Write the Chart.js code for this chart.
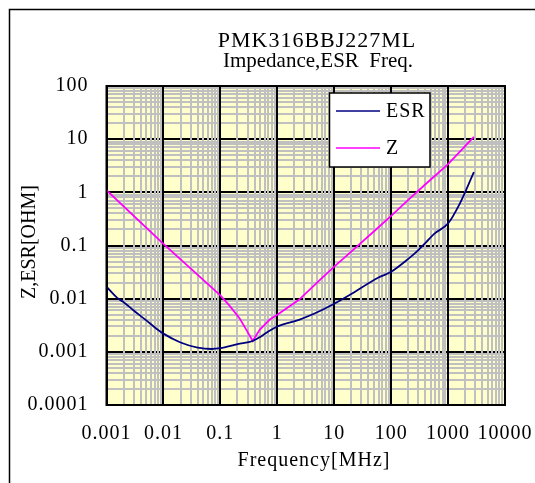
<!DOCTYPE html>
<html><head><meta charset="utf-8">
<style>html,body{margin:0;padding:0;background:#fff;}canvas{display:block;}</style>
<script src="https://cdn.jsdelivr.net/npm/chart.js@4.4.1/dist/chart.umd.min.js"></script>
</head><body>
<canvas id="c" width="535" height="483"></canvas>
<script>
const titleLines = ['PMK316BBJ227ML', 'Impedance,ESR  Freq.'];
const xAxisTitle = 'Frequency[MHz]';
const yAxisTitle = 'Z,ESR[OHM]';
const xTickLabels = ['0.001', '0.01', '0.1', '1', '10', '100', '1000', '10000'];
const yTickLabels = ['0.0001', '0.001', '0.01', '0.1', '1', '10', '100'];
const seriesNames = ['ESR', 'Z'];

const esrFreq   = [0.001, 0.0016, 0.002, 0.003, 0.005, 0.007, 0.01, 0.02, 0.04, 0.07, 0.1, 0.2, 0.37, 0.5, 0.73, 1, 2.4, 5.5, 10, 18.6, 60, 100, 200, 300, 410, 570, 1000, 1590, 2840];
const esrValues = [0.0168, 0.0100, 0.0086, 0.0060, 0.0039, 0.0029, 0.0022, 0.0015, 0.0012, 0.00113, 0.00117, 0.0014, 0.0016, 0.0019, 0.0025, 0.0030, 0.0040, 0.0058, 0.0080, 0.0117, 0.025, 0.032, 0.056, 0.082, 0.115, 0.166, 0.26, 0.60, 2.4];

const zFreq   = [0.001, 0.01, 0.1, 0.146, 0.22, 0.28, 0.37, 0.49, 0.73, 1, 2.4, 5.5, 10, 18.6, 60, 100, 200, 410, 1000, 2840];
const zValues = [1.1, 0.107, 0.0115, 0.0073, 0.0042, 0.0027, 0.0016, 0.0026, 0.0040, 0.0050, 0.0095, 0.022, 0.040, 0.072, 0.22, 0.36, 0.72, 1.45, 3.4, 11];

const SERIF = '"Liberation Serif", "Times New Roman", serif';

function isPow10(v) {
  const l = Math.log10(v);
  return Math.abs(l - Math.round(l)) < 1e-9;
}
function buildLogTicks(labels) {
  const majors = labels.map(Number);
  const ticks = [];
  for (let i = 0; i < majors.length; i++) {
    ticks.push({ value: majors[i] });
    if (i < majors.length - 1) {
      for (let k = 2; k <= 9; k++) ticks.push({ value: parseFloat((majors[i] * k).toPrecision(6)) });
    }
  }
  return ticks;
}
function labelFor(labels, v) {
  if (!isPow10(v)) return '';
  const found = labels.find(s => Math.abs(Math.log10(Number(s)) - Math.log10(v)) < 1e-9);
  return found || '';
}

const decorPlugin = {
  id: 'decor',
  beforeDraw(chart) {
    const ctx = chart.ctx, a = chart.chartArea;
    ctx.save();
    ctx.fillStyle = '#ffffff';
    ctx.fillRect(0, 0, chart.width, chart.height);
    ctx.fillStyle = '#FFFFCC';
    ctx.fillRect(a.left, a.top, a.right - a.left, a.bottom - a.top);
    ctx.restore();
    ctx.letterSpacing = '1px';
  },
  afterDraw(chart) {
    const ctx = chart.ctx, a = chart.chartArea;
    ctx.save();
    // plot border
    ctx.strokeStyle = '#000';
    ctx.lineWidth = 2;
    ctx.strokeRect(a.left, a.top, a.right - a.left, a.bottom - a.top);
    // outer frame
    ctx.lineWidth = 1.5;
    ctx.beginPath();
    ctx.moveTo(9.5, chart.height + 2);
    ctx.lineTo(9.5, 9.5);
    ctx.lineTo(chart.width + 2, 9.5);
    ctx.stroke();
    // titles
    ctx.fillStyle = '#000';
    ctx.textAlign = 'center';
    ctx.textBaseline = 'alphabetic';
    ctx.font = '22px ' + SERIF;
    ctx.letterSpacing = '1px';
    ctx.fillText(titleLines[0], 317, 47);
    ctx.font = '21px ' + SERIF;
    ctx.letterSpacing = '0px';
    ctx.fillText(titleLines[1], 318, 67);
    ctx.font = '20px ' + SERIF;
    ctx.letterSpacing = '1px';
    ctx.fillText(xAxisTitle, 314, 466);
    ctx.save();
    ctx.translate(30, 242);
    ctx.rotate(-Math.PI / 2);
    ctx.textBaseline = 'middle';
    ctx.letterSpacing = '0px';
    ctx.fillText(yAxisTitle, 0, 0);
    ctx.restore();
    // legend
    const lx = 329.5, ly = 93, lw = 100.5, lh = 74;
    ctx.fillStyle = '#fff';
    ctx.fillRect(lx, ly, lw, lh);
    ctx.strokeStyle = '#000';
    ctx.lineWidth = 1.5;
    ctx.strokeRect(lx, ly, lw, lh);
    const rows = [111, 148];
    chart.data.datasets.forEach((ds, i) => {
      const y = rows[i];
      ctx.strokeStyle = ds.borderColor;
      ctx.lineWidth = 1.5;
      ctx.beginPath();
      ctx.moveTo(336, y);
      ctx.lineTo(380, y);
      ctx.stroke();
      ctx.fillStyle = '#000';
      ctx.textAlign = 'left';
      ctx.textBaseline = 'middle';
      ctx.font = '20px ' + SERIF;
      ctx.letterSpacing = '1px';
      ctx.fillText(ds.label, 386, y + 1);
    });
    ctx.restore();
  }
};

const gridColor = c => (c.tick && isPow10(c.tick.value)) ? '#000000' : '#C0C0C0';

new Chart(document.getElementById('c'), {
  type: 'line',
  data: {
    datasets: [
      { label: seriesNames[0], data: esrFreq.map((f, i) => ({ x: f, y: esrValues[i] })), borderColor: '#000080', borderWidth: 1.8, pointRadius: 0, cubicInterpolationMode: 'monotone', fill: false },
      { label: seriesNames[1], data: zFreq.map((f, i) => ({ x: f, y: zValues[i] })), borderColor: '#FF00FF', borderWidth: 1.8, pointRadius: 0, tension: 0, fill: false }
    ]
  },
  options: {
    responsive: false,
    animation: false,
    devicePixelRatio: 1,
    layout: { padding: { top: 86, right: 30, left: 0, bottom: 0 } },
    plugins: { legend: { display: false }, title: { display: false }, tooltip: { enabled: false } },
    scales: {
      x: {
        type: 'logarithmic', position: 'bottom',
        min: 0.001, max: 10000,
        afterBuildTicks: s => { s.ticks = buildLogTicks(xTickLabels); },
        afterFit: s => { s.height = 78; s.paddingLeft = 0; s.paddingRight = 0; },
        ticks: { autoSkip: false, maxRotation: 0, minRotation: 0, padding: 17, color: '#000', font: { family: SERIF, size: 20 }, callback: v => labelFor(xTickLabels, v) },
        grid: { color: gridColor, lineWidth: 2, drawTicks: false, z: -1 },
        border: { display: false }
      },
      y: {
        type: 'logarithmic', position: 'left',
        min: 0.0001, max: 100,
        afterBuildTicks: s => { s.ticks = buildLogTicks(yTickLabels); },
        afterFit: s => { s.width = 106.5; s.paddingTop = 0; s.paddingBottom = 0; },
        ticks: { autoSkip: false, padding: 18, color: '#000', font: { family: SERIF, size: 20 }, callback: v => labelFor(yTickLabels, v) },
        grid: { color: gridColor, lineWidth: 2, drawTicks: false, z: -2 },
        border: { display: false }
      }
    }
  },
  plugins: [decorPlugin]
});
</script>
</body></html>
